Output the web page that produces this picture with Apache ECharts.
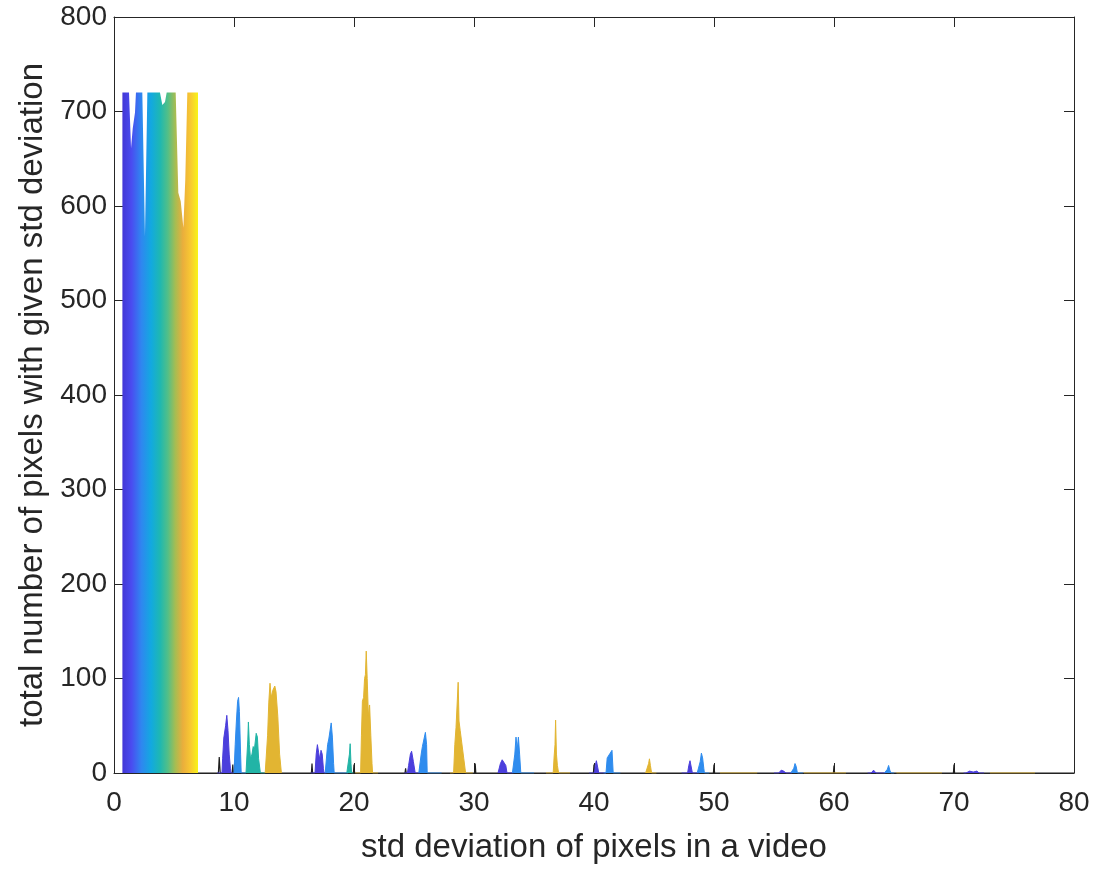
<!DOCTYPE html>
<html>
<head>
<meta charset="utf-8">
<script src="https://cdn.jsdelivr.net/npm/echarts@6/dist/echarts.min.js"></script>
<style>
    html, body {margin: 0; padding: 0; background: #fff;}
    #chart {width: 1099px; height: 869px;}
</style>
</head>
<body>
<div id="chart"></div>
<script>
    // axis ticks
    const xTicks = [0, 10, 20, 30, 40, 50, 60, 70, 80];
    const yTicks = [0, 100, 200, 300, 400, 500, 600, 700, 800];

    // the wide block at low std deviation (top outline, left to right)
    const blockX = [0.7, 0.7, 1.25, 1.42, 1.56, 1.75, 1.83, 2.36, 2.58, 2.72, 2.78, 3.83, 4.03, 4.25, 4.39, 5.14, 5.36, 5.56, 5.78, 5.94, 6.11, 7.0, 7.0];
    const blockY = [0, 720, 720, 661, 682, 699, 720, 720, 568, 568, 720, 720, 707, 710, 720, 720, 614, 605, 577, 628, 720, 720, 0];

    // dark trace along the baseline with its small spikes
    const darkTrace = [[7.0, 0], [8.7, 0], [8.77, 17], [8.85, 0], [9.85, 0], [9.9, 9], [9.95, 0], [16.45, 0], [16.5, 10], [16.55, 0],
        [19.95, 0], [20.0, 9], [20.05, 0], [24.25, 0], [24.3, 5], [24.35, 0], [30.05, 0], [30.1, 10], [30.15, 0],
        [39.95, 0], [40.0, 9], [40.05, 0], [49.95, 0], [50.0, 9], [50.05, 0], [59.95, 0], [60.0, 8], [60.05, 0],
        [69.95, 0], [70.0, 9], [70.05, 0], [80, 0]];

    const purplePeaks = [
        [[8.6, 0], [9.0, 0], [9.05, 15], [9.15, 37], [9.3, 50], [9.4, 61], [9.5, 45], [9.6, 20], [9.7, 5], [9.75, 0], [10.0, 0]],
        [[16.4, 0], [16.75, 0], [16.85, 20], [16.95, 30], [17.05, 22], [17.15, 14], [17.25, 24], [17.35, 20], [17.45, 5], [17.5, 0], [17.7, 0]],
        [[24.2, 0], [24.45, 0], [24.55, 8], [24.7, 20], [24.8, 23], [24.95, 12], [25.1, 0], [25.5, 0]],
        [[32.0, 0], [32.1, 0], [32.2, 10], [32.35, 14], [32.5, 13], [32.65, 8], [32.75, 0], [33.3, 0]],
        [[39.6, 0], [40.05, 0], [40.1, 8], [40.2, 13], [40.3, 11], [40.4, 0], [41.0, 0]],
        [[47.3, 0], [47.8, 0], [47.9, 8], [48.0, 13], [48.1, 12], [48.2, 0], [48.75, 0]],
        [[55.0, 0], [55.4, 0], [55.6, 3], [55.8, 2], [56.0, 0], [56.5, 0]],
        [[62.8, 0], [63.1, 0], [63.3, 3], [63.5, 0], [64.3, 0]],
        [[70.8, 0], [71.0, 0], [71.3, 2], [71.6, 1], [71.9, 2], [72.1, 0], [72.5, 0]]
    ];

    const bluePeaks = [
        [[10.0, 0], [10.05, 0], [10.1, 30], [10.2, 55], [10.3, 76], [10.38, 80], [10.45, 65], [10.55, 20], [10.6, 0], [11.0, 0]],
        [[17.6, 0], [17.7, 0], [17.8, 30], [17.9, 36], [18.0, 38], [18.1, 53], [18.2, 38], [18.3, 10], [18.35, 0], [19.5, 0]],
        [[25.4, 0], [25.5, 0], [25.6, 20], [25.7, 28], [25.85, 29], [25.95, 43], [26.05, 30], [26.1, 0], [27.3, 0]],
        [[33.2, 0], [33.3, 0], [33.4, 20], [33.5, 38], [33.6, 25], [33.7, 38], [33.8, 20], [33.9, 0], [35.0, 0]],
        [[40.8, 0], [41.0, 0], [41.1, 16], [41.25, 18], [41.35, 21], [41.5, 24], [41.6, 0], [42.2, 0]],
        [[48.6, 0], [48.75, 0], [48.85, 12], [48.95, 21], [49.05, 16], [49.15, 5], [49.2, 0], [49.6, 0]],
        [[56.4, 0], [56.55, 0], [56.65, 5], [56.75, 10], [56.85, 7], [56.95, 0], [57.4, 0]],
        [[64.2, 0], [64.35, 0], [64.45, 4], [64.55, 8], [64.65, 3], [64.75, 0], [65.0, 0]]
    ];

    const tealPeaks = [
        [[11.0, 0], [11.08, 0], [11.15, 35], [11.2, 54], [11.28, 30], [11.38, 15], [11.5, 20], [11.6, 28], [11.7, 25], [11.85, 42], [11.95, 38], [12.05, 15], [12.2, 0], [12.6, 0]],
        [[19.4, 0], [19.55, 0], [19.62, 20], [19.68, 31], [19.75, 10], [19.8, 0], [19.95, 0]]
    ];

    const yellowPeaks = [
        [[12.6, 0], [12.75, 0], [12.8, 40], [12.9, 75], [13.0, 95], [13.1, 80], [13.25, 88], [13.4, 92], [13.5, 86], [13.65, 60], [13.8, 20], [13.95, 0], [14.0, 0]],
        [[20.1, 0], [20.55, 0], [20.62, 40], [20.7, 76], [20.8, 80], [20.88, 100], [20.95, 104], [21.02, 129], [21.1, 100], [21.2, 60], [21.3, 72], [21.4, 40], [21.5, 10], [21.55, 0], [22.0, 0]],
        [[28.0, 0], [28.3, 0], [28.4, 30], [28.5, 48], [28.6, 50], [28.68, 96], [28.75, 55], [28.85, 45], [28.95, 35], [29.05, 33], [29.15, 15], [29.3, 0], [29.9, 0]],
        [[36.0, 0], [36.6, 0], [36.68, 18], [36.75, 30], [36.8, 56], [36.87, 20], [36.95, 8], [37.05, 0], [38.0, 0]],
        [[44.3, 0], [44.45, 0], [44.55, 10], [44.62, 15], [44.7, 8], [44.8, 0], [45.2, 0]],
        [[50.5, 0], [53.6, 0]],
        [[57.5, 0], [61.0, 0]],
        [[65.2, 0], [69.0, 0]],
        [[73.0, 0], [76.75, 0]]
    ];

    const groupColors = {
        purple: '#4b3fdc',
        blue: '#2f8cee',
        teal: '#22b4a6',
        yellow: '#e2b532'
    };

    const blockGradient = {
        type: 'linear', x: 0, y: 0, x2: 1, y2: 0,
        colorStops: [
            {offset: 0, color: '#4337d6'},
            {offset: 0.12, color: '#4a4cf0'},
            {offset: 0.25, color: '#2f86f0'},
            {offset: 0.38, color: '#12a9e0'},
            {offset: 0.5, color: '#1fb8b0'},
            {offset: 0.6, color: '#52bf88'},
            {offset: 0.7, color: '#a6bd52'},
            {offset: 0.8, color: '#eaae3c'},
            {offset: 0.9, color: '#f8c832'},
            {offset: 1, color: '#f8f418'}
        ]
    };

    const AXIS_COLOR = '#262626';
    const FONT = '"Liberation Sans", Arial, sans-serif';

    function areaSeries(data, color, z) {
        return {
            type: 'line', data: data, z: z,
            symbol: 'none', showSymbol: false, silent: true,
            lineStyle: {color: color, width: 1},
            areaStyle: {color: color, opacity: 1}
        };
    }

    const series = [];
    series.push({
        type: 'line', data: darkTrace, z: 2,
        symbol: 'none', silent: true,
        lineStyle: {color: '#1e1e1e', width: 1.2}
    });
    series.push({
        type: 'line', data: blockX.map((x, i) => [x, blockY[i]]), z: 3,
        symbol: 'none', silent: true,
        lineStyle: {width: 0},
        areaStyle: {color: blockGradient, opacity: 1}
    });
    purplePeaks.forEach(p => series.push(areaSeries(p, groupColors.purple, 3)));
    bluePeaks.forEach(p => series.push(areaSeries(p, groupColors.blue, 3)));
    tealPeaks.forEach(p => series.push(areaSeries(p, groupColors.teal, 3)));
    yellowPeaks.forEach(p => series.push(areaSeries(p, groupColors.yellow, 3)));

    const baseX = {
        type: 'value', min: xTicks[0], max: xTicks[xTicks.length - 1], interval: 10,
        axisLine: {show: true, onZero: false, lineStyle: {color: AXIS_COLOR, width: 1}},
        axisTick: {show: true, inside: true, length: 10, lineStyle: {color: AXIS_COLOR}},
        splitLine: {show: false}
    };
    const baseY = {
        type: 'value', min: yTicks[0], max: yTicks[yTicks.length - 1], interval: 100,
        axisLine: {show: true, onZero: false, lineStyle: {color: AXIS_COLOR, width: 1}},
        axisTick: {show: true, inside: true, length: 10, lineStyle: {color: AXIS_COLOR}},
        splitLine: {show: false}
    };

    const chart = echarts.init(document.getElementById('chart'), null, {renderer: 'canvas'});
    chart.setOption({
        animation: false,
        backgroundColor: '#ffffff',
        grid: {left: 114, right: 25, top: 17, bottom: 94, containLabel: false},
        xAxis: [
            Object.assign({}, baseX, {
                position: 'bottom',
                name: 'std deviation of pixels in a video',
                nameLocation: 'middle', nameGap: 58,
                nameTextStyle: {color: AXIS_COLOR, fontSize: 33, fontFamily: FONT},
                axisLabel: {color: AXIS_COLOR, fontSize: 28, fontFamily: FONT, margin: 16}
            }),
            Object.assign({}, baseX, {position: 'top', axisLabel: {show: false}})
        ],
        yAxis: [
            Object.assign({}, baseY, {
                position: 'left',
                name: 'total number of pixels with given std deviation',
                nameLocation: 'middle', nameGap: 62,
                nameTextStyle: {color: AXIS_COLOR, fontSize: 33, fontFamily: FONT},
                axisLabel: {color: AXIS_COLOR, fontSize: 28, fontFamily: FONT, margin: 7}
            }),
            Object.assign({}, baseY, {position: 'right', axisLabel: {show: false}})
        ],
        series: series
    });
</script>
</body>
</html>
